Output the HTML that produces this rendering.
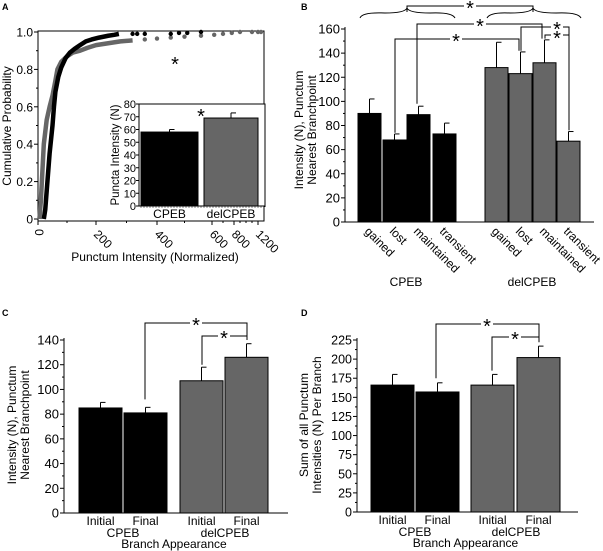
<!DOCTYPE html>
<html><head><meta charset="utf-8"><style>
html,body{margin:0;padding:0;background:#fff;width:603px;height:551px;overflow:hidden}
svg{display:block;font-family:"Liberation Sans",Arial,sans-serif}
</style></head><body>
<svg id="fig" width="603" height="551" viewBox="0 0 603 551" xmlns="http://www.w3.org/2000/svg"></svg>
<script>
// ---------- Panel A data ----------
const cpebCdfX = [20,25,30,40,50,55,60,70,80,95,110,126,145,165,185,210,240,260,275];
const cpebCdfP = [0,0.05,0.15,0.35,0.5,0.6,0.68,0.76,0.81,0.86,0.89,0.91,0.93,0.95,0.96,0.97,0.98,0.985,0.99];
const cpebTailX = [320,335,360,450,480,510,560];
const cpebTailP = [0.99,0.99,0.99,0.99,0.995,0.995,1.0];
const delCdfX = [5,10,15,20,30,40,50,60,67,80,100,120,145,170,200,240,280,320];
const delCdfP = [0,0.1,0.25,0.4,0.53,0.6,0.66,0.74,0.8,0.84,0.87,0.89,0.9,0.915,0.93,0.94,0.95,0.955];
const delTailX = [360,400,450,500,560,620,700,780,900,1100,1200,1250];
const delTailP = [0.96,0.965,0.97,0.975,0.98,0.985,0.99,0.995,1.0,1.0,1.0,1.0];
const insetCats = ["CPEB","delCPEB"];
const insetVals = [58,69];
const insetErr = [2,4];
// ---------- Panel B data ----------
const bCats = ["gained","lost","maintained","transient","gained","lost","maintained","transient"];
const bVals = [90,68,89,73,128,123,132,67];
const bErr = [12,5,7,9,21,18,19,8];
const bTicks = [0,20,40,60,80,100,120,140,160];
// ---------- Panel C data ----------
const cCats = ["Initial","Final","Initial","Final"];
const cVals = [85,81,107,126];
const cErr = [4.5,4.5,11,11];
const cTicks = [0,20,40,60,80,100,120,140];
// ---------- Panel D data ----------
const dVals = [166,157,166,202];
const dErr = [14,12,14,15];
const dTicks = [0,25,50,75,100,125,150,175,200,225];

const NS="http://www.w3.org/2000/svg";
const svg=document.getElementById('fig');
function mk(tag,attrs,parent){const e=document.createElementNS(NS,tag);for(const k in attrs)e.setAttribute(k,attrs[k]);(parent||svg).appendChild(e);return e;}
function txt(s,x,y,size,anchor,rot,parent){const t=mk('text',{x:x,y:y,'font-size':size,'text-anchor':anchor||'middle',fill:'#000'},parent);if(rot)t.setAttribute('transform',`rotate(${rot} ${x} ${y})`);t.textContent=s;return t;}
const BLK='#000',GRY='#666';

[['A',2,10],['B',301,10],['C',2,316],['D',301,316]].forEach(p=>{const t=txt(p[0],p[1],p[2],9,'start');t.setAttribute('font-weight','bold');
});

// ================= Panel A =================
const aX0=38,aY0=219,aY1=32;
const xBreaks=[0,200,400,600,800,1200,1300];
const xPix=[38,96,157,212,234,258,264];
function ax(v){for(let i=0;i<xBreaks.length-1;i++){if(v<=xBreaks[i+1]){return xPix[i]+(v-xBreaks[i])/(xBreaks[i+1]-xBreaks[i])*(xPix[i+1]-xPix[i]);}}return xPix[xPix.length-1];}
function ay(p){return aY0-(aY0-aY1)*p;}
const gA=mk('g',{});


mk('rect',{x:aX0,y:aY1-1,width:264-aX0,height:aY0-aY1+3,fill:'none',stroke:'#000','stroke-width':1},gA);
[0,0.2,0.4,0.6,0.8,1.0].forEach(p=>{mk('line',{x1:aX0-4,x2:aX0,y1:ay(p),y2:ay(p),stroke:'#000'},gA);
 const t=txt(p===0?'0':p.toFixed(1),aX0-5,ay(p)+4.5,12,'end',0,gA);});
[0.1,0.3,0.5,0.7,0.9].forEach(p=>mk('line',{x1:aX0-2,x2:aX0,y1:ay(p),y2:ay(p),stroke:'#000'},gA));
[0,200,400,600,800,1200].forEach(v=>{mk('line',{x1:ax(v),x2:ax(v),y1:aY0+2,y2:aY0+6,stroke:'#000'},gA);
 const t=txt(String(v),ax(v)-3,aY0+16,12,'start',v===0?90:45,gA);if(v===0){t.setAttribute('transform',`rotate(90 ${ax(v)-3} ${aY0+10})`);t.setAttribute('y',aY0+10);}
 });
[100,300,500,700,900,1000,1100].forEach(v=>mk('line',{x1:ax(v),x2:ax(v),y1:aY0+2,y2:aY0+4,stroke:'#000'},gA));
let t=txt('Cumulative Probability',11,126,12,'middle',-90,gA);
t=txt('Punctum Intensity (Normalized)',155,261,12,'middle',0,gA);
function cdf(xs,ps,col,name){const pts=xs.map((v,i)=>ax(v)+','+ay(ps[i])).join(' ');
 const l=mk('polyline',{points:pts,fill:'none',stroke:col,'stroke-width':4.5,'stroke-linejoin':'round'},gA);}
function dots(xs,ps,col,name){xs.forEach((v,i)=>{const c=mk('circle',{cx:ax(v),cy:ay(ps[i]),r:2.2,fill:col},gA);});}
cdf(delCdfX,delCdfP,GRY,'delcpeb');dots(delTailX,delTailP,GRY,'delcpeb');
cdf(cpebCdfX,cpebCdfP,BLK,'cpeb');dots(cpebTailX,cpebTailP,BLK,'cpeb');
t=txt('*',175,71,20,'middle',0,gA);
// inset
const iX0=139,iY0=206,iY1=104;
function iy(v){return iY0-(iY0-iY1)*v/80;}
mk('rect',{x:iX0,y:iY1,width:126,height:iY0-iY1,fill:'#fff',stroke:'none'},gA);
mk('path',{d:`M${iX0} ${iY1}H265V${iY0+1}`,fill:'none',stroke:'#000'},gA);
mk('line',{x1:iX0,x2:iX0,y1:iY1,y2:iY0,stroke:'#000'},gA);
mk('line',{x1:iX0,x2:265,y1:iY0,y2:iY0,stroke:'#000'},gA);
for(let v=0;v<=80;v+=10){mk('line',{x1:iX0-3,x2:iX0,y1:iy(v),y2:iy(v),stroke:'#000'},gA);
 const tt=txt(String(v),iX0-3,iy(v)+4,11,'end',0,gA);}
for(let x=141;x<=264;x+=3)mk('line',{x1:x,x2:x,y1:iY0,y2:iY0+2,stroke:'#000','stroke-width':0.5},gA);
const iBarX=[141,204],iBarW=[57,54];
insetVals.forEach((v,i)=>{const col=i?GRY:BLK;
 mk('line',{x1:iBarX[i]+iBarW[i]/2,x2:iBarX[i]+iBarW[i]/2,y1:iy(v),y2:iy(v+insetErr[i]),stroke:'#000'},gA);
 mk('line',{x1:iBarX[i]+iBarW[i]/2,x2:iBarX[i]+iBarW[i]/2+5,y1:iy(v+insetErr[i]),y2:iy(v+insetErr[i]),stroke:'#000'},gA);
 const r=mk('rect',{x:iBarX[i],y:iy(v),width:iBarW[i],height:iY0-iy(v),fill:col,stroke:'#000'},gA);
 const l=txt(insetCats[i],iBarX[i]+iBarW[i]/2,218,12,'middle',0,gA);});
t=txt('Puncta Intensity (N)',119,155,11.5,'middle',-90,gA);
t=txt('*',201,123,20,'middle',0,gA);

// ================= bar panel helper =================
function barPanel(o){
 const g=mk('g',{});
 
 
 const y=v=>o.y0-(o.y0-o.y1)*v/o.max;
 mk('line',{x1:o.x0,x2:o.x0,y1:o.y1-2,y2:o.y0,stroke:'#000'},g);
 mk('line',{x1:o.x0,x2:o.xEnd,y1:o.y0,y2:o.y0,stroke:'#000'},g);
 o.ticks.forEach(v=>{mk('line',{x1:o.x0-4,x2:o.x0,y1:y(v),y2:y(v),stroke:'#000'},g);
  const tt=txt(String(v),o.x0-5,y(v)+4.5,o.fs,'end',0,g);});
 for(let i=0;i<o.ticks.length-1;i++){const m=(o.ticks[i]+o.ticks[i+1])/2;mk('line',{x1:o.x0-2,x2:o.x0,y1:y(m),y2:y(m),stroke:'#000'},g);}
 o.vals.forEach((v,i)=>{const bx=o.bx[i],bw=o.bw,col=i<o.vals.length/2?BLK:GRY;const cx=bx+bw/2;
  mk('line',{x1:cx,x2:cx,y1:y(v),y2:y(v+o.err[i]),stroke:'#000'},g);
  mk('line',{x1:cx,x2:cx+5,y1:y(v+o.err[i]),y2:y(v+o.err[i]),stroke:'#000'},g);
  const r=mk('rect',{x:bx,y:y(v),width:bw,height:o.y0-y(v),fill:col,stroke:'#000'},g);
  });
 return {g,y};
}
function bracket(g,pts,star){mk('polyline',{points:pts.map(p=>p.join(',')).join(' '),fill:'none',stroke:'#000','stroke-width':1},g);
 if(star){mk('rect',{x:star[0]-6,y:star[1]-4,width:12,height:8,fill:'#fff'},g);const s=txt('*',star[0],star[1]+10,20,'middle',0,g);}}

// ================= Panel B =================
const bBx=[358,383,407,433,485,509,533,557];
const B=barPanel({name:'branchpoint-bar-chart',x0:345,xEnd:594,y0:222,y1:29,max:160,ticks:bTicks,fs:13,vals:bVals,err:bErr,cats:bCats,bx:bBx,bw:23});
bCats.forEach((c,i)=>{const bx=bBx[i]+6;const tt=txt(c,bx,232,12,'start',45,B.g);});
t=txt('CPEB',406,286,12,'middle',0,B.g);
t=txt('delCPEB',532,286,12,'middle',0,B.g);
t=txt('Intensity (N), Punctum',303,130,12,'middle',-90,B.g);
t=txt('Nearest Branchpoint',316,130,12,'middle',-90,B.g);
mk('path',{d:'M360 18 Q362 12 385 13 Q405 13 407 8 Q409 13 430 13 Q452 12 455 18',fill:'none',stroke:'#000'},B.g);
mk('path',{d:'M487 18 Q490 12 510 13 Q531 13 533 8 Q535 13 556 13 Q578 12 581 18',fill:'none',stroke:'#000'},B.g);
bracket(B.g,[[407,12],[407,6],[533,6],[533,12]],[470,5]);
bracket(B.g,[[417,B.y(98)],[417,24],[542,24],[542,B.y(152)]],[480,23]);
bracket(B.g,[[395,B.y(74)],[395,39],[519,39],[519,B.y(142)]],[456,38]);
bracket(B.g,[[521,B.y(142)],[521,27],[569,27],[569,B.y(76)]],[557,26]);
bracket(B.g,[[545,B.y(152)],[545,35],[569,35]],[557,35]);

// ================= Panel C =================
const C=barPanel({name:'intensity-bar-chart',x0:64,xEnd:288,y0:513,y1:340,max:140,ticks:cTicks,fs:13,vals:cVals,err:cErr,cats:cCats,bx:[79,124,180,225],bw:43});
function groupLabels(g,bx,bw,y0,cx1,cx2){cCats.forEach((c,i)=>{const tt=txt(c,bx[i]+bw/2,y0+12,12,'middle',0,g);});
 let a=txt('CPEB',cx1,y0+24,12,'middle',0,g);
 a=txt('delCPEB',cx2,y0+24,12,'middle',0,g);
 a=txt('Branch Appearance',(cx1+cx2)/2,y0+35,12,'middle',0,g);}
groupLabels(C.g,[79,124,180,225],43,513,123,225);
t=txt('Intensity (N), Punctum',16,425,12,'middle',-90,C.g);
t=txt('Nearest Branchpoint',29,425,12,'middle',-90,C.g);
bracket(C.g,[[145,C.y(92)],[145,323],[247,323],[247,C.y(140)]],[196,322]);
bracket(C.g,[[202,C.y(120)],[202,336],[247,336]],[224,335]);

// ================= Panel D =================
const D=barPanel({name:'sum-intensity-bar-chart',x0:357,xEnd:578,y0:512,y1:340,max:225,ticks:dTicks,fs:12.5,vals:dVals,err:dErr,cats:cCats,bx:[371,416,471,517],bw:43});
groupLabels(D.g,[371,416,471,517],43,512,415,516);
t=txt('Sum of all Punctum',308,425,12,'middle',-90,D.g);
t=txt('Intensities (N) Per Branch',321,425,12,'middle',-90,D.g);
bracket(D.g,[[436,D.y(175)],[436,324],[539,324],[539,D.y(222)]],[487,323]);
bracket(D.g,[[492,D.y(185)],[492,337],[539,337]],[515,336]);
</script>
</body></html>
